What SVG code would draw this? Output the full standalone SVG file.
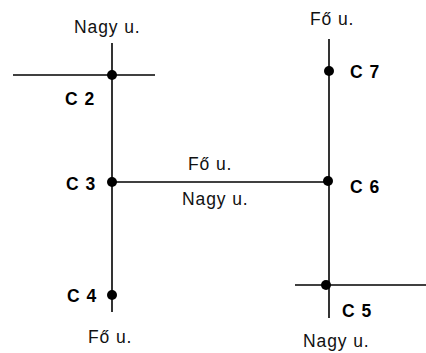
<svg xmlns="http://www.w3.org/2000/svg" width="426" height="353" viewBox="0 0 426 353">
<style>
.road{stroke:#000;stroke-width:1.6;fill:none}
.dot{fill:#000}
.street{font-family:"Liberation Sans",Arial,sans-serif;font-size:17.5px;letter-spacing:0.9px;fill:#111}
.lbl{font-family:"Liberation Sans",Arial,sans-serif;font-size:17.5px;font-weight:bold;letter-spacing:1px;fill:#000}
</style>
<rect width="426" height="353" fill="#fff"/>
<g id="connectors">
<line class="road" x1="112" y1="43" x2="112" y2="312"/>
<line class="road" x1="13" y1="75" x2="155" y2="75"/>
<line class="road" x1="112" y1="182" x2="329" y2="182"/>
<line class="road" x1="329" y1="39" x2="329" y2="318"/>
<line class="road" x1="295" y1="285" x2="426" y2="285"/>
</g>
<g id="streets">
<text class="street" x="74" y="33">Nagy u.</text>
<text class="street" x="310" y="25">Fő u.</text>
<text class="street" x="188" y="170">Fő u.</text>
<text class="street" x="182" y="205">Nagy u.</text>
<text class="street" x="88" y="343">Fő u.</text>
<text class="street" x="303" y="347">Nagy u.</text>
</g>
<g id="C2"><circle class="dot" cx="112" cy="75" r="5"/><text class="lbl" x="65" y="105">C 2</text></g>
<g id="C3"><circle class="dot" cx="112" cy="182" r="5"/><text class="lbl" x="66" y="190">C 3</text></g>
<g id="C4"><circle class="dot" cx="112" cy="295" r="5"/><text class="lbl" x="67" y="302">C 4</text></g>
<g id="C7"><circle class="dot" cx="329" cy="71" r="5"/><text class="lbl" x="350" y="78">C 7</text></g>
<g id="C6"><circle class="dot" cx="328" cy="181" r="5"/><text class="lbl" x="350" y="193">C 6</text></g>
<g id="C5"><circle class="dot" cx="326" cy="285" r="5"/><text class="lbl" x="342" y="317">C 5</text></g>
</svg>
